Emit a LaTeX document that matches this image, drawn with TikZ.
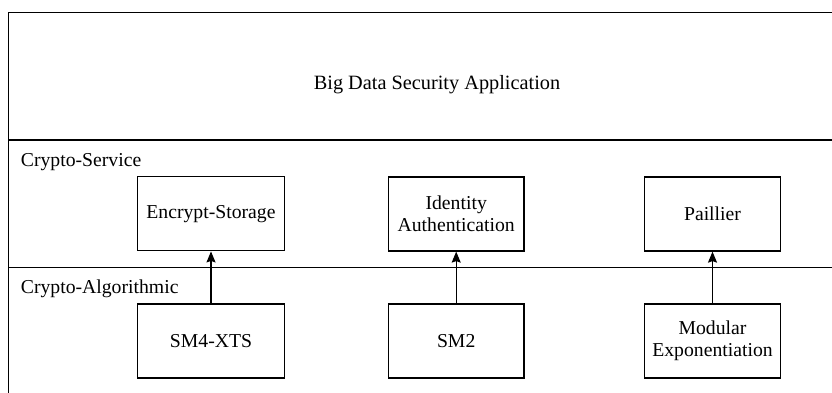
\documentclass[tikz,border=0pt]{standalone}
\usepackage{fontspec}
\setmainfont{Liberation Serif}
\usetikzlibrary{arrows.meta}
\begin{document}
\begin{tikzpicture}[x=1pt,y=-1pt,
  every node/.style={font=\fontsize{19.7}{22}\selectfont},
  blk/.style={draw, line width=1.2pt, align=center, inner sep=0pt, minimum height=74pt},
  lbl/.style={anchor=base west, inner sep=0pt},
  frame/.style={line width=1.2pt},
  conn/.style={line width=1.2pt, -{Stealth[length=11pt,width=9pt,inset=1.5pt]}}]
\useasboundingbox (0,0) rectangle (832,392);
\clip (0,0) rectangle (832,392);
% frame
\draw[frame] (8.3,400) -- (8.3,12.7) -- (840,12.7);
\draw[frame] (8.3,140) -- (840,140);
\draw[frame] (8.3,267.7) -- (840,267.7);
% texts
\node[anchor=base, inner sep=0pt, font=\fontsize{20.3}{23}\selectfont] (title) at (437,89.3) {Big Data Security Application};
\node[lbl] (svc) at (20.7,166) {Crypto-Service};
\node[lbl] (alg) at (20.7,293) {Crypto-Algorithmic};
% boxes
\node[blk, minimum width=146.6pt] (es) at (211,213.8) {Encrypt-Storage};
\node[blk, minimum width=135.7pt] (ia) at (456.2,214) {Identity\\Authentication};
\node[blk, minimum width=135.6pt] (pa) at (712.5,214) {Paillier};
\node[blk, minimum width=146.6pt] (sm4) at (211,341) {SM4-XTS};
\node[blk, minimum width=135.7pt] (sm2) at (456.2,341) {SM2};
\node[blk, minimum width=135.6pt] (me) at (712.5,341) {Modular\\Exponentiation};
% connectors
\draw[conn] (sm4.north) -- (es.south);
\draw[conn] (sm2.north) -- (ia.south);
\draw[conn] (me.north) -- (pa.south);
\end{tikzpicture}
\end{document}
